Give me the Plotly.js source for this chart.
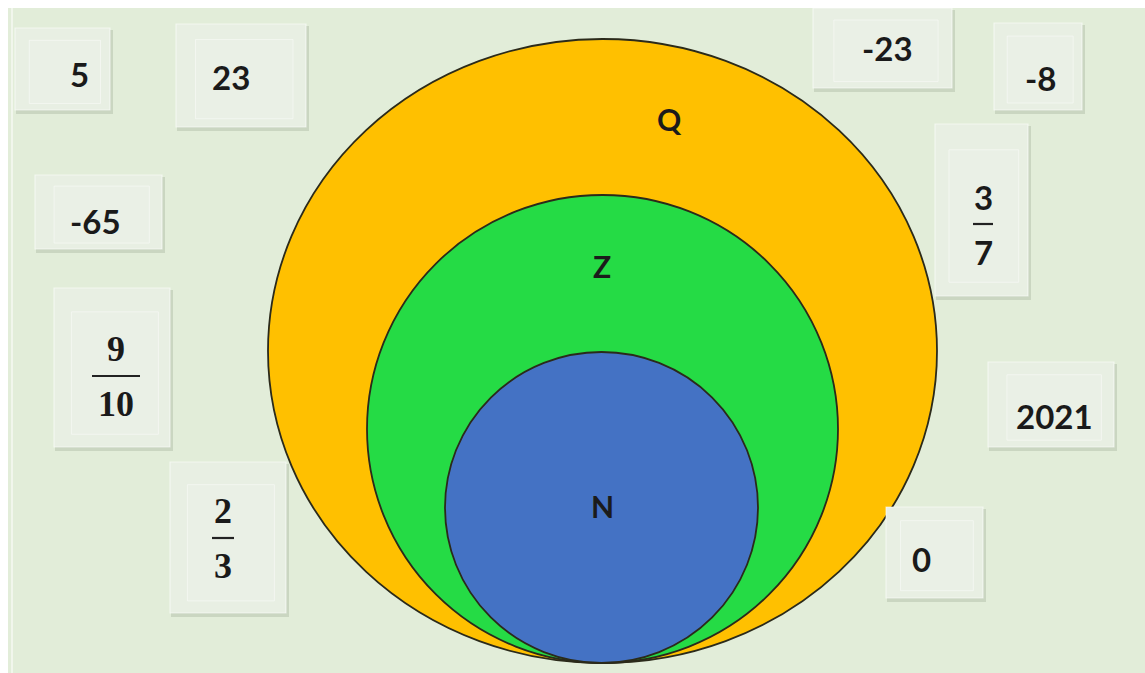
<!DOCTYPE html>
<html>
<head>
<meta charset="utf-8">
<script src="https://cdn.plot.ly/plotly-3.0.1.min.js"></script>
<style>
html,body{margin:0;padding:0;background:#ffffff;}
#chart{width:1145px;height:673px;}
</style>
</head>
<body>
<div id="chart"></div>
<script>
// ---- content ----
var setNames = ['Q', 'Z', 'N'];
var setColors = ['#FFC000', '#25DB45', '#4472C4'];
var cardValues = ['5', '23', '-65', '9/10', '2/3', '-23', '-8', '3/7', '2021', '0'];

// ---- layout (pixel geometry, separate from content) ----
var circleBoxes = [
  [268, 39, 937, 663],
  [367, 195, 838, 663],
  [445, 352, 758, 663]
];
var labelPos = [[669, 119], [602, 266], [602, 506]];
var cardBoxes = [
  [15, 28, 110, 110],
  [176, 24, 306, 127],
  [35, 175, 162, 249],
  [54, 288, 170, 447],
  [170, 462, 286, 613],
  [813, 8, 952, 88],
  [994, 23, 1082, 110],
  [935, 124, 1028, 296],
  [988, 362, 1114, 447],
  [886, 507, 983, 598]
];
var cardText = [
  [79, 74], [231, 77], [95, 221], [116, 376], [223, 538],
  [887, 48], [1040, 78], [983, 224], [1054, 416], [921, 559]
];
var fracSerif = {'9/10': true, '2/3': true};

var shapes = [];
var annotations = [];

// background
shapes.push({type: 'rect', xref: 'x', yref: 'y', x0: 8, y0: 8, x1: 1145, y1: 673,
  fillcolor: '#E2EDD9', line: {width: 0}, layer: 'below'});
shapes.push({type: 'line', xref: 'x', yref: 'y', x0: 12, y0: 8, x1: 12, y1: 673,
  line: {color: 'rgba(255,255,255,0.5)', width: 2}, layer: 'below'});

// nested circles
for (var i = 0; i < setNames.length; i++) {
  var b = circleBoxes[i];
  shapes.push({type: 'circle', xref: 'x', yref: 'y', x0: b[0], y0: b[1], x1: b[2], y1: b[3],
    fillcolor: setColors[i], line: {color: '#2b2a1a', width: 1.8}});
  annotations.push({x: labelPos[i][0], y: labelPos[i][1], xref: 'x', yref: 'y',
    text: '<b>' + setNames[i] + '</b>', showarrow: false,
    font: {family: 'Lato, Open Sans, sans-serif', size: 30, color: '#1b1b1b'}});
}

// cards
for (var k = 0; k < cardValues.length; k++) {
  var c = cardBoxes[k];
  // shadow
  shapes.push({type: 'rect', xref: 'x', yref: 'y', x0: c[0] + 1, y0: c[1] + 2, x1: c[2] + 3, y1: c[3] + 4,
    fillcolor: 'rgba(120,130,110,0.22)', line: {width: 0}});
  // card
  shapes.push({type: 'rect', xref: 'x', yref: 'y', x0: c[0], y0: c[1], x1: c[2], y1: c[3],
    fillcolor: '#E8EFE3', line: {color: 'rgba(255,255,255,0.55)', width: 1.2}});
  // inner panel
  var w = c[2] - c[0], h = c[3] - c[1];
  shapes.push({type: 'rect', xref: 'x', yref: 'y',
    x0: c[0] + w * 0.15, y0: c[1] + h * 0.15, x1: c[2] - w * 0.1, y1: c[3] - h * 0.08,
    fillcolor: '#EAF0E6', line: {color: 'rgba(255,255,255,0.45)', width: 1}});

  var v = cardValues[k];
  var tx = cardText[k][0], ty = cardText[k][1];
  if (v.indexOf('/') >= 0) {
    var parts = v.split('/');
    var serif = fracSerif[v];
    var fam = serif ? 'Liberation Serif, DejaVu Serif, serif' : 'Lato, Open Sans, sans-serif';
    var fs = serif ? 36 : 33;
    annotations.push({x: tx, y: ty - 27, xref: 'x', yref: 'y', text: '<b>' + parts[0] + '</b>',
      showarrow: false, font: {family: fam, size: fs, color: '#1a1a1a'}});
    annotations.push({x: tx, y: ty + 28, xref: 'x', yref: 'y', text: '<b>' + parts[1] + '</b>',
      showarrow: false, font: {family: fam, size: fs, color: '#1a1a1a'}});
    var half = serif ? (parts[1].length > 1 ? 24 : 11) : 10;
    shapes.push({type: 'line', xref: 'x', yref: 'y', x0: tx - half, x1: tx + half, y0: ty, y1: ty,
      line: {color: '#222222', width: 2.2}});
  } else {
    annotations.push({x: tx, y: ty, xref: 'x', yref: 'y', text: '<b>' + v + '</b>',
      showarrow: false, font: {family: 'Lato, Open Sans, sans-serif', size: 33, color: '#1a1a1a'}});
  }
}

var layout = {
  width: 1145, height: 673,
  margin: {l: 0, r: 0, t: 0, b: 0},
  paper_bgcolor: '#ffffff', plot_bgcolor: '#ffffff',
  xaxis: {range: [0, 1145], visible: false, fixedrange: true},
  yaxis: {range: [673, 0], visible: false, fixedrange: true},
  showlegend: false,
  shapes: shapes,
  annotations: annotations
};

Plotly.newPlot('chart', [{x: [], y: [], type: 'scatter', mode: 'markers', hoverinfo: 'skip'}], layout,
  {displayModeBar: false, staticPlot: true});
</script>
</body>
</html>
